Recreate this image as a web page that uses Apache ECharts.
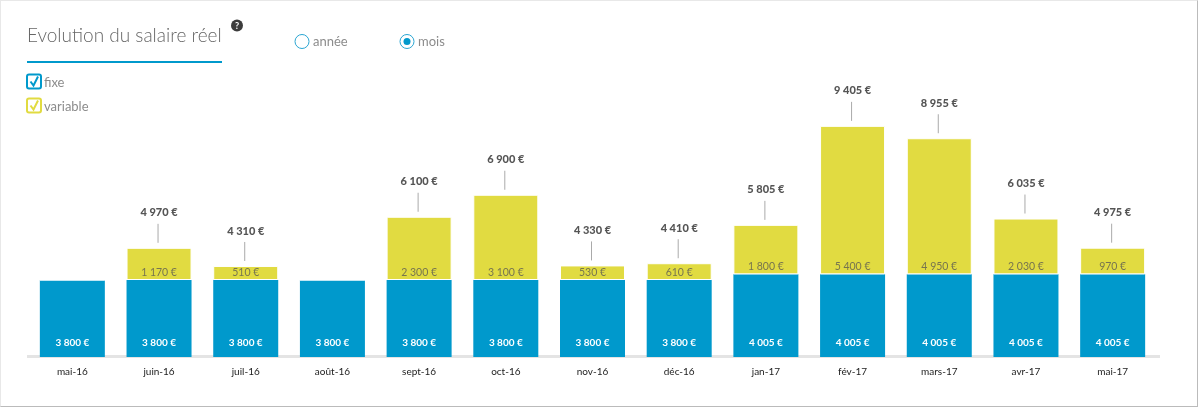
<!DOCTYPE html>
<html lang="fr">
<head>
<meta charset="utf-8">
<title>Evolution du salaire réel</title>
<script src="https://cdn.jsdelivr.net/npm/echarts@6/dist/echarts.min.js"></script>
<style>
  html, body { margin: 0; padding: 0; background: #fff; }
  #frame {
    box-sizing: border-box; width: 1198px; height: 407px;
    border-top: 1px solid #e8e8e8; border-right: 1px solid #bbb;
    border-bottom: 1px solid #bbb; border-left: 1px solid #e8e8e8;
  }
  #chart { width: 1196px; height: 405px; }
</style>
</head>
<body>
<div id="frame"><div id="chart"></div></div>
<script>
const months = ['mai-16','juin-16','juil-16','août-16','sept-16','oct-16','nov-16','déc-16','jan-17','fév-17','mars-17','avr-17','mai-17'];
const fixe = [3800,3800,3800,3800,3800,3800,3800,3800,4005,4005,4005,4005,4005];
const variable = [0,1170,510,0,2300,3100,530,610,1800,5400,4950,2030,970];

const BLUE = '#0099cc';
const YELLOW = '#e1db41';
const FONT = 'Lato, "Open Sans", sans-serif';

const euros = v => String(v).replace(/\B(?=(\d{3})+$)/g, ' ') + ' €';
const totals = fixe.map((f, i) => f + variable[i]);

// Checkbox drawn as a rounded square with a tick, followed by its caption
function checkbox(y, color, text) {
  return [
    { type: 'rect', shape: { x: 26, y: y - 7, width: 14, height: 14, r: 2 },
      style: { fill: '#fff', stroke: color, lineWidth: 2 } },
    { type: 'polyline', shape: { points: [[29.5, y], [32.5, y + 4], [37, y - 5]] },
      style: { fill: 'none', stroke: color, lineWidth: 2 } },
    { type: 'text', style: { x: 43, y: y + 1, text, fill: '#8c8c8c', font: '400 13px ' + FONT, textVerticalAlign: 'middle' } }
  ];
}

// Radio button with its caption
function radio(cx, text, checked) {
  const parts = [
    { type: 'circle', shape: { cx, cy: 40.5, r: 7 }, style: { fill: '#fff', stroke: '#2aa5d2', lineWidth: 1 } },
    { type: 'text', style: { x: cx + 11, y: 41, text, fill: '#8c8c8c', font: '400 13px ' + FONT, textVerticalAlign: 'middle' } }
  ];
  if (checked) parts.push({ type: 'circle', shape: { cx, cy: 40.5, r: 3.5 }, style: { fill: BLUE } });
  return parts;
}

const chart = echarts.init(document.getElementById('chart'), null, { renderer: 'canvas' });
chart.setOption({
  animation: false,
  textStyle: { fontFamily: FONT },
  grid: { left: 28, right: 41, top: 59, height: 297, containLabel: false },
  xAxis: {
    type: 'category', data: months,
    axisLine: { show: false }, axisTick: { show: false },
    axisLabel: { color: '#222', fontSize: 10, margin: 10, fontFamily: FONT, interval: 0 }
  },
  yAxis: { type: 'value', min: 1000, max: 11800, show: false },
  series: [
    {
      name: 'fixe', type: 'bar', stack: 'salaire', data: fixe, barWidth: 65,
      itemStyle: { color: BLUE },
      label: { show: true, position: 'insideBottom', distance: 9, color: '#fff', fontSize: 10, fontWeight: 700,
               formatter: p => euros(p.value) }
    },
    {
      name: 'variable', type: 'bar', stack: 'salaire', data: variable, barWidth: 65,
      itemStyle: { color: YELLOW, borderColor: '#fff', borderWidth: 1 },
      label: { show: true, position: 'insideBottom', distance: 2, color: '#77754f', fontSize: 10.5,
               formatter: p => p.value ? euros(p.value) : '' }
    },
    {
      // Leader line and total above each stack that has a variable part
      name: 'total', type: 'custom', data: totals.map((t, i) => [i, t]), z: 5,
      renderItem(params, api) {
        const i = api.value(0);
        if (!variable[i]) return null;
        const [x, y] = api.coord([i, api.value(1)]);
        return {
          type: 'group',
          children: [
            { type: 'line', shape: { x1: x - 1, y1: y - 5, x2: x - 1, y2: y - 24 },
              style: { stroke: '#aaa', lineWidth: 1 } },
            { type: 'text', style: { x, y: y - 35, text: euros(api.value(1)), fill: '#555',
                fontFamily: FONT, fontSize: 11, fontWeight: 900, textAlign: 'center', textVerticalAlign: 'middle' } }
          ]
        };
      }
    }
  ],
  graphic: [
    { type: 'rect', z: -1, shape: { x: 26, y: 354, width: 1133, height: 3 }, style: { fill: '#e4e4e4' } },
    { type: 'text', style: { x: 26, y: 35, text: 'Evolution du salaire réel', fill: '#666',
        font: '300 19px ' + FONT, textVerticalAlign: 'middle' } },
    { type: 'rect', shape: { x: 26, y: 60, width: 195, height: 2 }, style: { fill: BLUE } },
    { type: 'circle', shape: { cx: 236, cy: 24.5, r: 6 }, style: { fill: '#3c3c3c' } },
    { type: 'text', style: { x: 236, y: 25, text: '?', fill: '#fff', font: '700 9px ' + FONT,
        textAlign: 'center', textVerticalAlign: 'middle' } },
    ...radio(301, 'année', false),
    ...radio(406, 'mois', true),
    ...checkbox(80.5, BLUE, 'fixe'),
    ...checkbox(104.5, YELLOW, 'variable')
  ]
});
</script>
</body>
</html>
